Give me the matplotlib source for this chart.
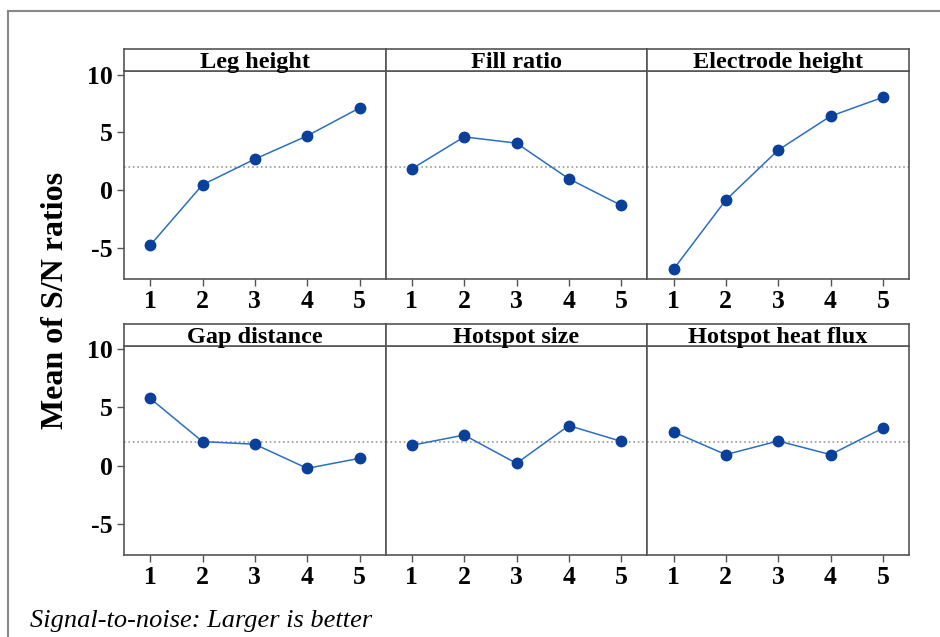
import matplotlib.pyplot as plt
from matplotlib.lines import Line2D

# Main effects plot for S/N ratios (larger is better)
levels = [1, 2, 3, 4, 5]
factors = ['Leg height', 'Fill ratio', 'Electrode height',
           'Gap distance', 'Hotspot size', 'Hotspot heat flux']

leg_height = [-4.76, 0.47, 2.69, 4.70, 7.11]
fill_ratio = [1.85, 4.61, 4.07, 0.99, -1.31]
electrode_height = [-6.83, -0.85, 3.47, 6.40, 8.03]
gap_distance = [5.78, 2.07, 1.84, -0.23, 0.63]
hotspot_size = [1.75, 2.63, 0.20, 3.44, 2.09]
hotspot_heat_flux = [2.90, 0.95, 2.12, 0.95, 3.22]

series = [leg_height, fill_ratio, electrode_height,
          gap_distance, hotspot_size, hotspot_heat_flux]
overall_mean = 2.03
y_ticks = [-5, 0, 5, 10]

plt.rcParams['font.family'] = ['Liberation Serif', 'DejaVu Serif']

W, H = 940, 637
fig = plt.figure(figsize=(W / 100, H / 100), dpi=100)

edge = '#555555'
left, right = 124, 909
pw = (right - left) / 3
rows = [(49, 71.3, 279.3), (324, 346, 555.3)]  # strip top, axes top, axes bottom

for i, (name, vals) in enumerate(zip(factors, series)):
    r, c = divmod(i, 3)
    stop, atop, abot = rows[r]
    x0 = left + c * pw
    ax = fig.add_axes([x0 / W, 1 - abot / H, pw / W, (abot - atop) / H])
    ax.plot(levels, vals, color='#2a6fc0', linewidth=1.1, marker='o',
            markersize=7.5, markerfacecolor='#0a3f9a', markeredgecolor='#0a3f9a',
            zorder=3)
    ax.axhline(overall_mean, color='#9a9a9a', linestyle=':', linewidth=1.2, zorder=1)
    ax.set_xlim(0.5, 5.5)
    ax.set_ylim(-7.7, 10.28)
    ax.set_xticks(levels)
    ax.set_xticklabels([str(v) for v in levels], fontsize=18.5, fontweight='bold')
    ax.set_yticks(y_ticks)
    if c == 0:
        ax.set_yticklabels([str(v) for v in y_ticks], fontsize=18.5, fontweight='bold')
    else:
        ax.tick_params(axis='y', left=False, labelleft=False)
    ax.tick_params(axis='both', direction='out', length=5, width=1, color=edge, pad=3)
    for sp in ax.spines.values():
        sp.set_color(edge)
        sp.set_linewidth(1.2)

    # strip with factor name
    sax = fig.add_axes([x0 / W, 1 - atop / H, pw / W, (atop - stop) / H])
    sax.set_xticks([])
    sax.set_yticks([])
    for sp in sax.spines.values():
        sp.set_color(edge)
        sp.set_linewidth(1.2)
    sax.text(0.5, 0.38, name, ha='center', va='center', fontsize=17.5,
             fontweight='bold', transform=sax.transAxes)

fig.text(56 / W, 1 - 300 / H, 'Mean of S/N ratios', rotation=90, ha='center',
         va='center', fontsize=23, fontweight='bold')
fig.text(30 / W, 1 - 627 / H, 'Signal-to-noise: Larger is better', ha='left',
         va='baseline', fontsize=19, fontstyle='italic')

# outer frame (partly cut off at the right and bottom)
fig.add_artist(Line2D([8 / W, 1], [1 - 11 / H, 1 - 11 / H], color='#888888', linewidth=1.5))
fig.add_artist(Line2D([8 / W, 8 / W], [0, 1 - 11 / H], color='#888888', linewidth=1.5))

fig.savefig('out.png', dpi=100)
